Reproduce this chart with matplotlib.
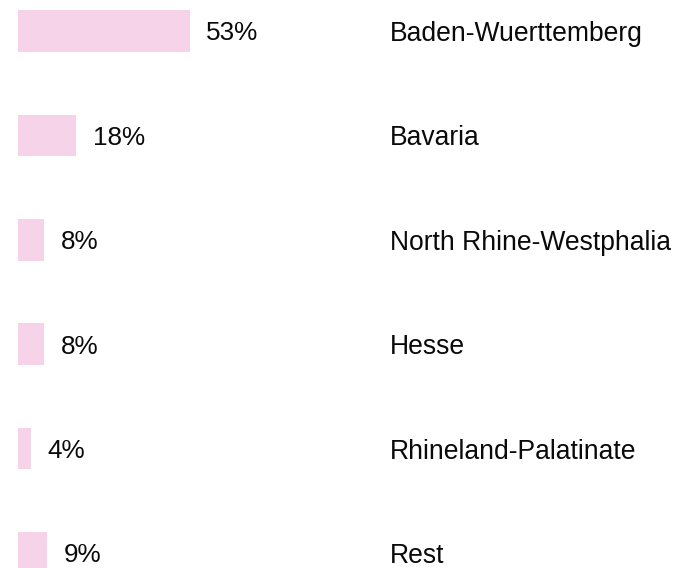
import matplotlib.pyplot as plt
import matplotlib.transforms as mtransforms

# shares by state, in percent
states = ['Baden-Wuerttemberg', 'Bavaria', 'North Rhine-Westphalia',
          'Hesse', 'Rhineland-Palatinate', 'Rest']
shares = [53, 18, 8, 8, 4, 9]

plt.rcParams['font.family'] = ['Liberation Sans', 'DejaVu Sans']

fig = plt.figure(figsize=(6.9, 5.68), dpi=100)
ax = fig.add_axes([0, 0, 1, 1])

rows = list(range(len(states)))
ax.barh(rows, shares, height=0.40, color='#f6d3e9', left=0)

# percent labels right of the bars
for r, v in zip(rows, shares):
    ax.annotate(f'{v}%', xy=(v, r), xytext=(12, 0), textcoords='offset points',
                ha='left', va='center_baseline', fontsize=18.8, color='#0a0a0a')

# state names in a column on the right
trans = mtransforms.blended_transform_factory(fig.transFigure, ax.transData)
for r, name in zip(rows, states):
    ax.text(390 / 690, r, name, transform=trans, ha='left', va='center_baseline',
            fontsize=19.1, color='#0a0a0a')

ax.set_xlim(-18 / 3.236, (690 - 18) / 3.236)
ax.set_ylim((568 - 31) / 104.4, -31 / 104.4)
ax.axis('off')

plt.savefig('out.png', dpi=100)
